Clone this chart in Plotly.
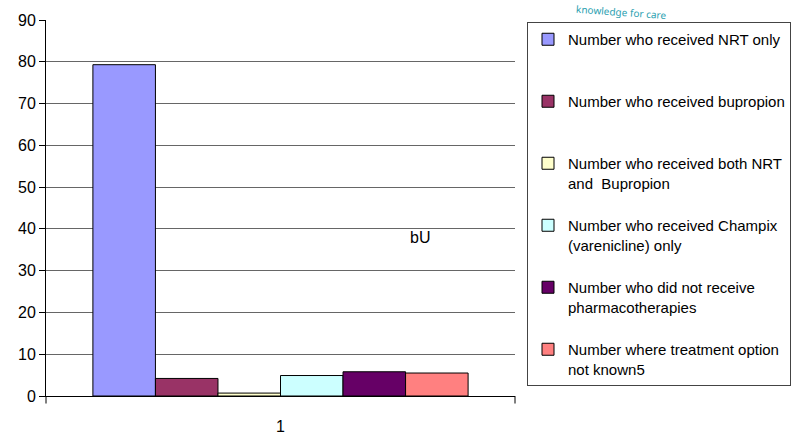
import plotly.graph_objects as go

categories = ["1"]
series_names = [
    "Number who received NRT only<br> ",
    "Number who received bupropion<br> ",
    "Number who received both NRT<br>and  Bupropion",
    "Number who received Champix<br>(varenicline) only",
    "Number who did not receive<br>pharmacotherapies",
    "Number where treatment option<br>not known5",
]
series_values = [79.3, 4.2, 0.7, 4.9, 5.8, 5.5]
series_colors = ["#9999FF", "#993366", "#FFFFCC", "#CCFFFF", "#660066", "#FF8080"]
y_ticks = [0, 10, 20, 30, 40, 50, 60, 70, 80, 90]

FONT = "Liberation Sans, Arial, sans-serif"

fig = go.Figure()
for i, (name, val, col) in enumerate(zip(series_names, series_values, series_colors)):
    fig.add_trace(go.Bar(
        x=categories, y=[val], name=name, marker=dict(color=col, line=dict(color="black", width=1)),
        legendgroup=str(i),
    ))

fig.update_layout(
    width=796, height=437,
    margin=dict(l=46, r=281, t=20, b=41, autoexpand=False),
    paper_bgcolor="white", plot_bgcolor="white",
    barmode="group", bargap=0.2, bargroupgap=0,
    font=dict(family=FONT, size=16, color="black"),
    showlegend=True,
    legend=dict(
        xref="container", yref="container",
        x=527 / 796, xanchor="left", y=1 - 22 / 437, yanchor="top",
        bordercolor="#444444", borderwidth=1, bgcolor="white",
        font=dict(family=FONT, size=15, color="black"),
        tracegroupgap=20, valign="top", itemwidth=30,
        traceorder="grouped", maxheight=430,
    ),
    xaxis=dict(
        showline=True, linecolor="black", linewidth=1,
        ticks="", showgrid=False, tickfont=dict(size=16), ticklabelstandoff=16,
    ),
    yaxis=dict(
        range=[0, 90], tickvals=y_ticks, showline=True, linecolor="black", linewidth=1,
        ticks="outside", ticklen=6, tickcolor="black", showgrid=True, gridcolor="#666666",
        gridwidth=1, zeroline=False, tickfont=dict(size=16),
    ),
    annotations=[
        dict(x=0.797, y=40.5, xref="paper", yref="y", text="bU", showarrow=False,
             font=dict(family=FONT, size=16, color="black"),
             yanchor="top", xanchor="center"),
        dict(x=1.33, y=1.053, xref="paper", yref="paper", text="knowledge for care", showarrow=False,
             textangle=4, font=dict(family="Noto Sans, sans-serif", size=10, color="#2aa0b0")),
    ],
)

# tick marks at the x-axis ends
fig.add_shape(type="line", xref="paper", yref="paper", x0=0, x1=0, y0=0, y1=-0.02,
              line=dict(color="black", width=1))
fig.add_shape(type="line", xref="paper", yref="paper", x0=1, x1=1, y0=0, y1=-0.02,
              line=dict(color="black", width=1))

fig.write_html("out.html")
